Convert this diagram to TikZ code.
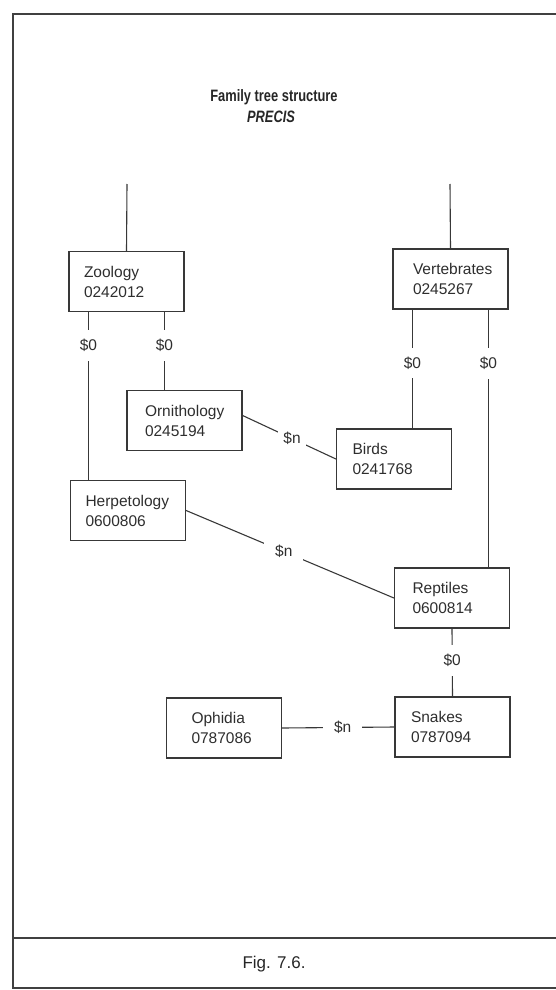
\documentclass[tikz,border=0pt]{standalone}
\usepackage{fontspec}
\setmainfont{Liberation Sans}
\newfontfamily\headfont[FakeStretch=0.78]{Liberation Sans}
\hyphenpenalty=10000
\exhyphenpenalty=10000
\begin{document}
\begin{tikzpicture}[x=1pt,y=-1pt,
  framerule/.style={draw=black!75, line width=2pt},
  entry/.style={draw=black!78, line width=1.2pt, rectangle,
    minimum height=60pt, minimum width=115pt, inner ysep=0pt,
    inner xsep=#1, text width={115pt-2*(#1)}, align=left,
    text=black!82, font=\fontsize{15.5}{20}\selectfont},
  entry/.default=16pt,
  link/.style={draw=black!78, line width=1.1pt},
  tag/.style={fill=white, inner xsep=11pt, inner ysep=9pt,
    text=black!82, font=\fontsize{15.5}{18}\selectfont},
]
\useasboundingbox (0,0) rectangle (556,990);

% page frame and caption rule
\draw[framerule] (556,14) -- (13,14) -- (13,988) -- (556,988);
\draw[framerule] (13,938) -- (556,938);

% headings
\node[text=black!85, font=\headfont\fontsize{16.5}{18}\bfseries\selectfont] (title) at (274,97) {Family tree structure};
\node[text=black!85, font=\headfont\fontsize{16.5}{18}\bfseries\itshape\selectfont] (precis) at (271,117) {PRECIS};
\node[text=black!85, font=\fontsize{17}{20}\selectfont] (fig) at (274,964) {Fig. 7.6.};

% entries
\node[entry=15pt] (zoo)    at (126.5,281.5) {Zoology\\0242012};
\node[entry=20pt] (vert)   at (450.5,279)   {Vertebrates\\0245267};
\node[entry=18pt] (orn)    at (184.5,420.5) {Ornithology\\0245194};
\node[entry=16pt] (birds)  at (394,459)     {Birds\\0241768};
\node[entry=15pt] (herp)   at (128,510.5)   {Herpetology\\0600806};
\node[entry=18pt] (rept)   at (452,598)     {Reptiles\\0600814};
\node[entry=16pt] (snakes) at (452.5,727)   {Snakes\\0787094};
\node[entry=25pt] (oph)    at (224,728)     {Ophidia\\0787086};

% open ends above the two roots
\coordinate (zootop)  at (127,184);
\coordinate (verttop) at (450,184);
\draw[link] (zoo.north) -- (zootop);
\draw[link] (vert.north) -- (verttop);

% hierarchical links ($0)
\draw[link] ([xshift=20pt]zoo.south west) -- ([xshift=20pt]zoo.south west |- herp.north)
  node[tag, pos=0.2] (t1) {\$0};
\draw[link] ([xshift=96pt]zoo.south west) -- ([xshift=96pt]zoo.south west |- orn.north)
  node[tag, pos=0.43] (t2) {\$0};
\draw[link] ([xshift=20pt]vert.south west) -- ([xshift=20pt]vert.south west |- birds.north)
  node[tag, pos=0.45] (t3) {\$0};
\draw[link] ([xshift=96pt]vert.south west) -- ([xshift=96pt]vert.south west |- rept.north)
  node[tag, pos=0.21] (t4) {\$0};
\draw[link] (rept.south) -- (snakes.north)
  node[tag, pos=0.47] (t5) {\$0};

% associative links ($n)
\draw[link] ([yshift=5pt]orn.east) -- (birds.west)
  node[tag, inner xsep=5pt, pos=0.53] (t6) {\$n};
\draw[link] (herp.east) -- (rept.west)
  node[tag, pos=0.47] (t7) {\$n};
\draw[link] (oph.east) -- (snakes.west)
  node[tag, pos=0.54] (t8) {\$n};
\end{tikzpicture}
\end{document}
